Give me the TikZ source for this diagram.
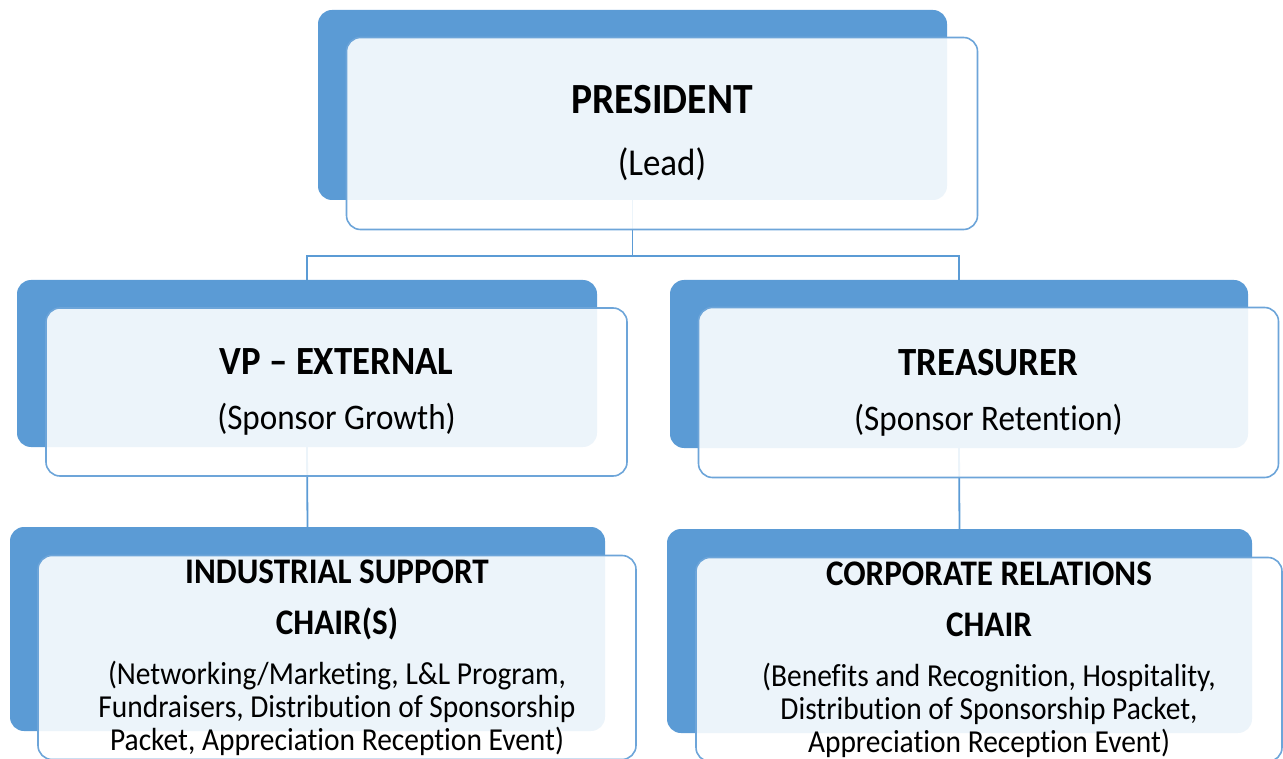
\documentclass[tikz,border=0pt]{standalone}
\usepackage{fontspec}
\setmainfont{Carlito}[FakeStretch=0.92, Ligatures=NoCommon]
\usetikzlibrary{calc}

\definecolor{accent}{HTML}{5B9BD5}
\definecolor{frame}{HTML}{6DA5D9}

\newcommand\toptitle{\fontsize{43}{46}\selectfont\bfseries}
\newcommand\midtitle{\fontsize{40}{44}\selectfont\bfseries}
\newcommand\lowtitle{\fontsize{36}{38}\selectfont\bfseries}

\tikzset{
	backbox/.style = {rectangle, rounded corners = 14pt, fill = accent, inner sep = 0pt},
	frontbox/.style = {rectangle, rounded corners = 14pt, fill = white, fill opacity = 0.89, text opacity = 1,
		draw = frame, line width = 1.6pt, inner sep = 0pt, align = center},
	link/.style = {draw = accent, line width = 1.8pt}
}

\begin{document}
\begin{tikzpicture}[x = 1pt, y = -1pt]
		\def\dx{29.5};
		\def\dy{28.5};

		\useasboundingbox (0,0) rectangle (1283,759);

		% shaded boxes behind
		\node [backbox, minimum width = 629pt, minimum height = 190pt] (presback) at (632.5,105) {};
		\node [backbox, minimum width = 580pt, minimum height = 167pt] (vpback) at (307,363.5) {};
		\node [backbox, minimum width = 578pt, minimum height = 168pt] (treasback) at (959,364) {};
		\node [backbox, minimum width = 595pt, minimum height = 204pt] (indback) at (307.5,629) {};
		\node [backbox, minimum width = 585pt, minimum height = 204pt] (corpback) at (959.5,631) {};

		% connectors
		\coordinate (bus) at (presback.south |- 0,256);
		\draw [link] (presback.south) -- (bus);
		\draw [link] (vpback.north) |- (bus) -| (treasback.north);
		\draw [link] (vpback.south) -- (indback.north);
		\draw [link] (treasback.south) -- (corpback.north);

		% text boxes
		\node [frontbox, minimum width = 631pt, minimum height = 192pt, font = \fontsize{38}{44}\selectfont]
			(pres) at ($(presback) + (\dx,\dy)$) {{\toptitle PRESIDENT}\\[18pt] (Lead)};
		\node [frontbox, minimum width = 581pt, minimum height = 168pt, font = \fontsize{36}{40}\selectfont]
			(vp) at ($(vpback) + (\dx,\dy)$) {{\midtitle VP – EXTERNAL}\\[15pt] (Sponsor Growth)};
		\node [frontbox, minimum width = 580pt, minimum height = 170pt, font = \fontsize{36}{40}\selectfont]
			(treas) at ($(treasback) + (\dx,\dy)$) {{\midtitle TREASURER}\\[15pt] (Sponsor Retention)};
		\node [frontbox, minimum width = 598pt, minimum height = 204pt, font = \fontsize{32}{33}\selectfont]
			(ind) at ($(indback) + (\dx,\dy)$) {{\lowtitle INDUSTRIAL SUPPORT}\\[18pt] {\lowtitle CHAIR(S)}\\[17pt]
			(Networking/Marketing, L\&L Program,\\ Fundraisers, Distribution of Sponsorship\\ Packet, Appreciation Reception Event)};
		\node [frontbox, minimum width = 586pt, minimum height = 204pt, font = \fontsize{32}{33}\selectfont]
			(corp) at ($(corpback) + (\dx,\dy)$) {{\lowtitle CORPORATE RELATIONS}\\[18pt] {\lowtitle CHAIR}\\[17pt]
			(Benefits and Recognition, Hospitality,\\ Distribution of Sponsorship Packet,\\ Appreciation Reception Event)};
	\end{tikzpicture}
\end{document}
